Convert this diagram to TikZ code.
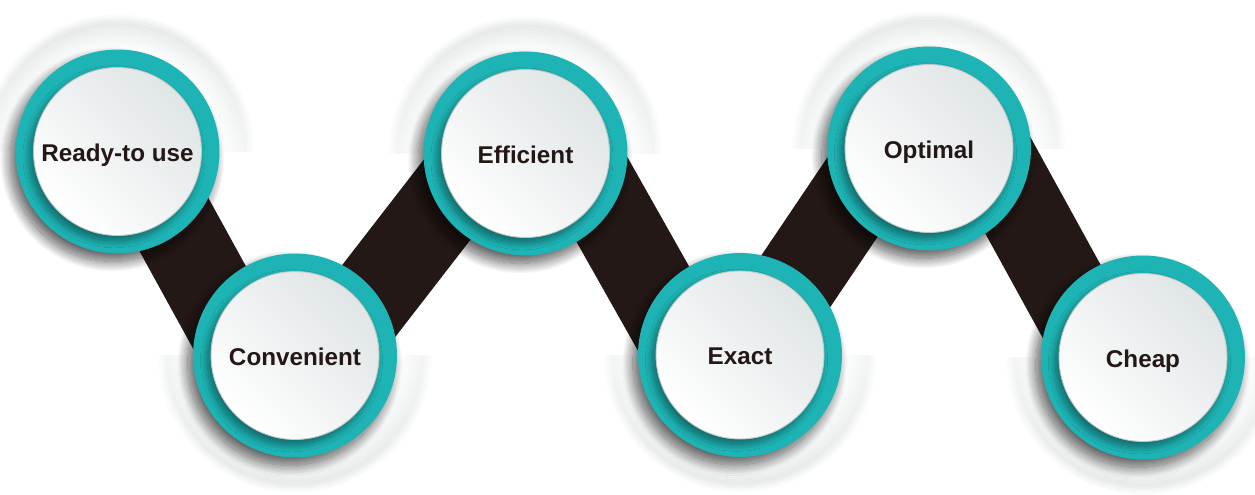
\documentclass[tikz,border=0pt]{standalone}
\usepackage{fontspec}
\setsansfont{Liberation Sans}
\usepackage{tikz}
\usetikzlibrary{calc, fadings, shadows.blur}
\definecolor{RingTeal}{HTML}{1EB4B5}
\definecolor{BandBrown}{HTML}{231815}
\definecolor{DiscGray}{HTML}{E0E5E6}
\definecolor{HaloGray}{HTML}{7F8C8C}
\tikzfading[name=haloup, top color=transparent!0, middle color=transparent!100, bottom color=transparent!100]
\tikzfading[name=halodown, top color=transparent!100, middle color=transparent!100, bottom color=transparent!0]
\pgfdeclarelayer{halo}
\pgfdeclarelayer{band}
\pgfsetlayers{halo,band,main}
\tikzset{
  ringnode/.style={circle, fill=RingTeal, minimum size=4.08cm, inner sep=0pt, blur shadow={shadow xshift=-3pt, shadow yshift=-4.5pt, shadow blur radius=6pt, shadow blur steps=30, shadow opacity=65}},
  discnode/.style={circle, minimum size=3.36cm, inner sep=0pt, top color=DiscGray, bottom color=white, shading angle=-45, draw=DiscGray!70!gray, line width=0.5pt, text=BandBrown, text height=11.3pt, text depth=0pt, font=\sffamily\bfseries\fontsize{13.8}{16}\selectfont, blur shadow={shadow xshift=-2pt, shadow yshift=-3pt, shadow blur radius=4pt, shadow blur steps=20, shadow opacity=45}},
  bandline/.style={draw=BandBrown, line width=1.72cm},
  haloring/.style={draw=HaloGray, line width=0.045cm}
}

\begin{document}
\begin{tikzpicture}[x=0.02cm, y=-0.02cm]
  \useasboundingbox (0,0) rectangle (1255,494);

  % rings and discs
  \node[ringnode] (c1) at (117.5,151.5) {};
  \node[discnode] (d1) at (c1) {Ready-to use};
  \node[ringnode] (c2) at (295,355.5) {};
  \node[discnode] (d2) at (c2) {Convenient};
  \node[ringnode] (c3) at (525.5,153.5) {};
  \node[discnode] (d3) at (c3) {Efficient};
  \node[ringnode] (c4) at (740,355) {};
  \node[discnode] (d4) at (c4) {Exact};
  \node[ringnode] (c5) at (929,148.5) {};
  \node[discnode] (d5) at (c5) {Optimal};
  \node[ringnode] (c6) at (1143,357.5) {};
  \node[discnode] (d6) at (c6) {Cheap};

  % bands behind the rings
  \begin{pgfonlayer}{band}
    \draw[bandline] ($(c1)+(12.5,-6.8)$) -- ($(c2)+(-37.7,20.6)$);
    \draw[bandline] ($(c2)+(19.75,15.25)$) -- ($(c3)+(-26.7,-20.6)$);
    \draw[bandline] ($(c3)+(38.3,-21.6)$) -- ($(c4)+(-38.1,21.5)$);
    \draw[bandline] ($(c4)+(4.2,2.8)$) -- ($(c5)+(-30.1,-20.3)$);
    \draw[bandline] ($(c5)+(45,-24.7)$) -- ($(c6)+(-31.1,17)$);
  \end{pgfonlayer}

  % soft halos, upper half for the top row, lower half for the bottom row
  \begin{pgfonlayer}{halo}
    \foreach \c/\s/\f in {c1/-1/haloup,c3/-1/haloup,c5/-1/haloup,c2/1/halodown,c4/1/halodown,c6/1/halodown} {
      \begin{scope}
        \clip ($(\c)+(-170,0)$) rectangle ($(\c)+(170,170*\s)$);
        \foreach \r in {102,104,...,138} {
          \pgfmathsetmacro{\op}{\r<=128 ? 0.16*(\r-100)/28 : 0.16*(138-\r)/10}
          \draw[haloring, opacity=\op, path fading=\f] (\c) circle[radius=\r*0.02cm];
        }
      \end{scope}
    }
  \end{pgfonlayer}
\end{tikzpicture}
\end{document}
